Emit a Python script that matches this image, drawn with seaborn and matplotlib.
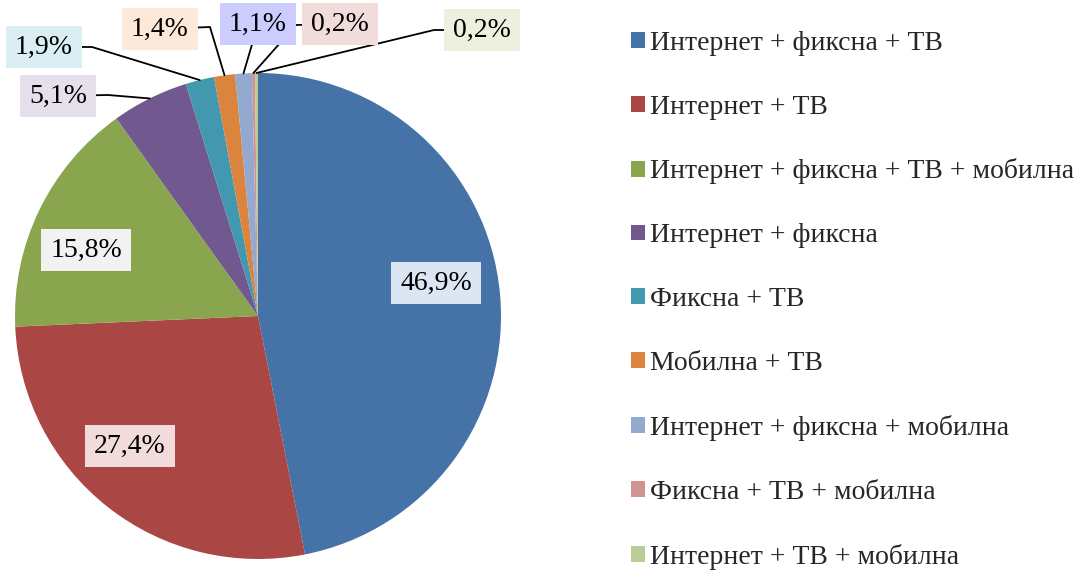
import matplotlib
matplotlib.use('Agg')
import matplotlib.pyplot as plt
import seaborn as sns
import numpy as np

# data
categories = ['Интернет + фиксна + ТВ', 'Интернет + ТВ', 'Интернет + фиксна + ТВ + мобилна',
              'Интернет + фиксна', 'Фиксна + ТВ', 'Мобилна + ТВ',
              'Интернет + фиксна + мобилна', 'Фиксна + ТВ + мобилна', 'Интернет + ТВ + мобилна']
shares = [46.9, 27.4, 15.8, 5.1, 1.9, 1.4, 1.1, 0.2, 0.2]

slice_colors = ['#4572A7', '#AA4643', '#89A54E', '#71588F', '#4198AF',
                '#DB843D', '#93A9CF', '#D19392', '#B9CD96']
box_colors = ['#DCE6F2', '#F2DCDB', '#F2F2F2', '#E6E0EC', '#DBEEF4',
              '#FDE9D9', '#CCCCFF', '#F2DCDB', '#EBF1DE']

# layout (pixels from top-left of the figure)
W, H = 1084, 573
CX, CY, R = 258, 316, 243
label_px = [(436, 283), (130, 446), (86, 250), (58, 96), (44, 47),
            (160, 29), (258, 24), (340, 24), (482, 30)]
elbow_px = [None, None, None, (108, 95), (92, 47), (210, 27), None, (296, 25), (434, 30)]
outer = [False, False, False, True, True, True, True, True, True]

sns.set_theme(style='white')
plt.rcParams['font.family'] = ['Liberation Serif', 'DejaVu Serif']


def to_data(p):
    return (p[0] - CX) / R, (CY - p[1]) / R


fig = plt.figure(figsize=(W / 100, H / 100), dpi=100)
ax = fig.add_axes([(CX - R) / W, (H - CY - R) / H, 2 * R / W, 2 * R / H])
wedges, _ = ax.pie(shares, colors=slice_colors, startangle=90, counterclock=False,
                   radius=1, wedgeprops=dict(linewidth=0))
ax.set_xlim(-1, 1)
ax.set_ylim(-1, 1)
ax.set_aspect('equal')
ax.axis('off')

for i, w in enumerate(wedges):
    txt = f'{shares[i]:.1f}'.replace('.', ',') + '%'
    lx, ly = to_data(label_px[i])
    if outer[i]:
        mid = np.deg2rad((w.theta1 + w.theta2) / 2)
        px_, py_ = np.cos(mid), np.sin(mid)
        xs, ys = [lx], [ly]
        if elbow_px[i] is not None:
            ex, ey = to_data(elbow_px[i])
            xs.append(ex)
            ys.append(ey)
        xs.append(px_)
        ys.append(py_)
        ax.plot(xs, ys, color='black', lw=1.3, clip_on=False, zorder=3)
    ax.text(lx, ly, txt, ha='center', va='center', fontsize=20, color='black',
            bbox=dict(boxstyle='square,pad=0.32', fc=box_colors[i], ec='none'), zorder=5)

fig.legend(wedges, categories, loc='center left', bbox_to_anchor=(0.582, 0.476),
           frameon=False, fontsize=20, labelspacing=1.40, handlelength=0.5,
           handleheight=0.5, handletextpad=0.2, borderpad=0, borderaxespad=0)

fig.savefig('out.png', dpi=100)
